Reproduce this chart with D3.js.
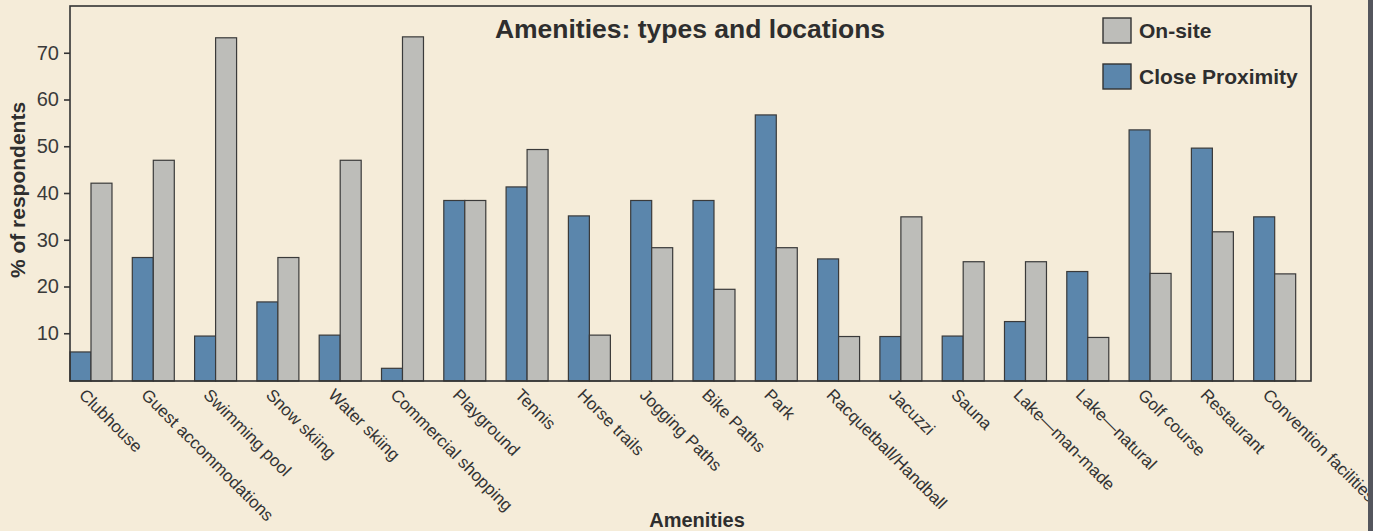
<!DOCTYPE html>
<html>
<head>
<meta charset="utf-8">
<script src="https://cdn.jsdelivr.net/npm/d3@7"></script>
<style>
  html, body { margin: 0; padding: 0; background: #f5ecd9; }
  svg { display: block; font-family: "Liberation Sans", Arial, Helvetica, sans-serif; }
</style>
</head>
<body>
<div id="chart"></div>
<script>
// amenities chart: grouped bars, close proximity (blue) vs on-site (gray)

const amenities = [
  "Clubhouse", "Guest accommodations", "Swimming pool", "Snow skiing", "Water skiing",
  "Commercial shopping", "Playground", "Tennis", "Horse trails", "Jogging Paths",
  "Bike Paths", "Park", "Racquetball/Handball", "Jacuzzi", "Sauna",
  "Lake\u2014man-made", "Lake\u2014natural", "Golf course", "Restaurant", "Convention facilities"
]
const closeProximity = [6, 26.2, 9.4, 16.7, 9.6, 2.5, 38.4, 41.3, 35.1, 38.4, 38.4, 56.7, 25.9, 9.3, 9.4, 12.5, 23.2, 53.5, 49.6, 34.9]
const onSite         = [42.1, 47, 73.2, 26.2, 47, 73.4, 38.4, 49.3, 9.6, 28.3, 19.4, 28.3, 9.3, 34.9, 25.3, 25.3, 9.1, 22.8, 31.7, 22.7]
const yTicks = [10, 20, 30, 40, 50, 60, 70]

const seriesKeys   = ["close", "onsite"]
const seriesLabels = { onsite: "On-site", close: "Close Proximity" }
const colors       = { close: "#5b86ac", onsite: "#bdbdb9" }

const rows = amenities.map((a, i) => ({ name: a, close: closeProximity[i], onsite: onSite[i] }))

const W = 1373, H = 531
const m = { top: 6, right: 62, bottom: 150, left: 70 }

const svg = d3.select("#chart").append("svg")
  .attr("width", W).attr("height", H)

const x0 = d3.scaleBand()
  .domain(amenities)
  .range([m.left, W - m.right])
  .paddingInner(0.326)
  .paddingOuter(0.123)
  .align(0)

const x1 = d3.scaleBand().domain(seriesKeys).range([0, x0.bandwidth()])

const y = d3.scaleLinear().domain([0, 80]).range([380, m.top])

// bars
const groups = svg.selectAll("g.grp")
  .data(rows).join("g")
  .attr("class", "grp")
  .attr("transform", d => `translate(${x0(d.name)},0)`)

groups.selectAll("rect")
  .data(d => seriesKeys.map(k => ({ key: k, value: d[k] })))
  .join("rect")
  .attr("x", d => x1(d.key))
  .attr("y", d => y(d.value))
  .attr("width", x1.bandwidth())
  .attr("height", d => y(0) - y(d.value) + 1)
  .attr("fill", d => colors[d.key])
  .attr("stroke", "#3a3a3a")
  .attr("stroke-width", 1.2)

// frame
svg.append("rect")
  .attr("x", m.left).attr("y", m.top)
  .attr("width", W - m.right - m.left).attr("height", 381 - m.top)
  .attr("fill", "none").attr("stroke", "#333").attr("stroke-width", 1.6)

// y axis
const yAxis = svg.append("g")
  .attr("transform", `translate(${m.left},0)`)
  .call(d3.axisLeft(y).tickValues(yTicks).tickSize(6).tickPadding(5))
yAxis.select(".domain").remove()
yAxis.selectAll("line").attr("stroke", "#333").attr("stroke-width", 1.6)
yAxis.selectAll("text")
  .style("font-size", "20px").style("fill", "#3a3a3a")
  .style("font-family", "'Liberation Sans', Arial, sans-serif")

// category labels, rotated
svg.selectAll("text.cat")
  .data(amenities).join("text")
  .attr("class", "cat")
  .attr("transform", d => `translate(${x0(d) + x0.bandwidth() / 2 - 13},396) rotate(45)`)
  .style("font-size", "17px").style("fill", "#333")
  .text(d => d)

// titles
svg.append("text")
  .attr("x", 690).attr("y", 38)
  .attr("text-anchor", "middle")
  .style("font-size", "26.5px").style("font-weight", "bold").style("fill", "#2e2e2e")
  .text("Amenities: types and locations")

svg.append("text")
  .attr("x", 697).attr("y", 527)
  .attr("text-anchor", "middle")
  .style("font-size", "20px").style("font-weight", "bold").style("fill", "#2e2e2e")
  .text("Amenities")

svg.append("text")
  .attr("transform", "translate(25,190) rotate(-90)")
  .attr("text-anchor", "middle")
  .style("font-size", "21px").style("font-weight", "bold").style("fill", "#2e2e2e")
  .text("% of respondents")

// legend
const legendKeys = ["onsite", "close"]
const legend = svg.append("g").attr("transform", "translate(1103,18)")
legend.selectAll("rect")
  .data(legendKeys).join("rect")
  .attr("x", 0).attr("y", (d, i) => i * 46)
  .attr("width", 28).attr("height", 25)
  .attr("fill", d => colors[d]).attr("stroke", "#333").attr("stroke-width", 1.4)
legend.selectAll("text")
  .data(legendKeys).join("text")
  .attr("x", 36).attr("y", (d, i) => i * 46 + 20)
  .style("font-size", "21px").style("font-weight", "bold").style("fill", "#2e2e2e")
  .text(d => seriesLabels[d])

// scanned page edge on the right (sits over the end of the last label, like the original)
svg.append("rect")
  .attr("x", 1368).attr("y", 0).attr("width", 5).attr("height", H)
  .attr("fill", "#54565d")
</script>
</body>
</html>
